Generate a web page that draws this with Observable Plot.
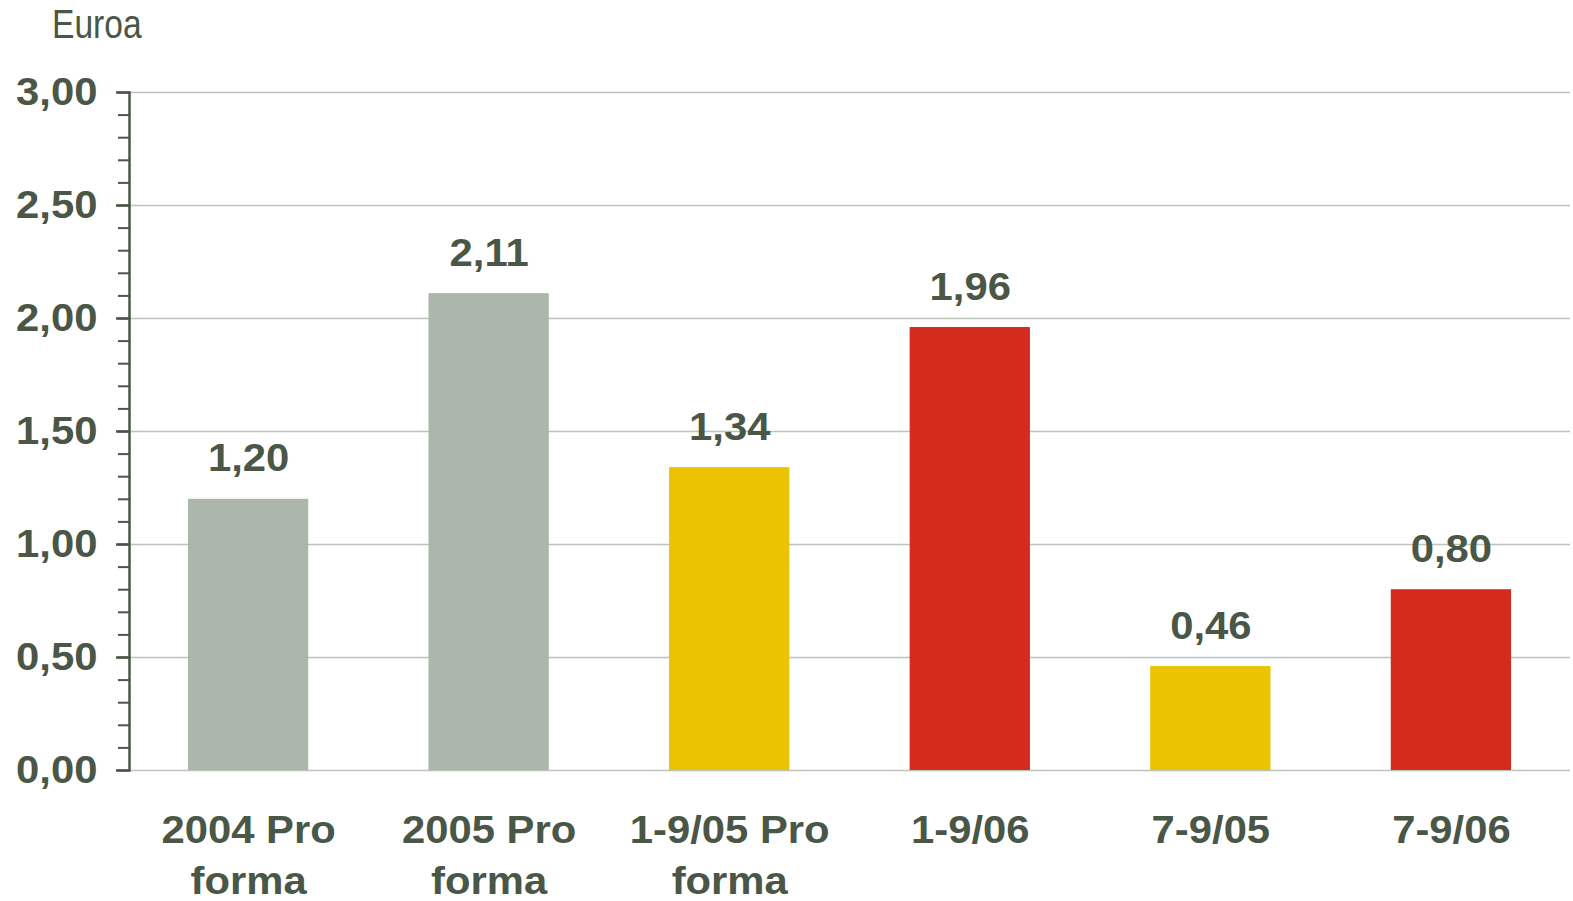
<!DOCTYPE html>
<html>
<head>
<meta charset="utf-8">
<script src="https://cdn.jsdelivr.net/npm/d3@7"></script>
<script src="https://cdn.jsdelivr.net/npm/@observablehq/plot@0.6"></script>
<style>
  html, body { margin: 0; padding: 0; background: #fff; }
  #wrap { position: relative; width: 1573px; height: 901px; }
  #unit { position: absolute; left: 52px; top: 4px; font-family: "Liberation Sans", Arial, sans-serif; font-size: 40px; line-height: 1; color: #4a5646; transform: scaleX(0.84); transform-origin: left top; }
  svg { display: block; }
</style>
</head>
<body>
<div id="wrap"><div id="unit">Euroa</div></div>
<script>
const categories = ["2004 Pro\nforma", "2005 Pro\nforma", "1-9/05 Pro\nforma", "1-9/06", "7-9/05", "7-9/06"];
const values = [1.20, 2.11, 1.34, 1.96, 0.46, 0.80];
const groups = ["A", "A", "B", "C", "B", "C"];
const groupColors = ["#abb7aa", "#ebc300", "#d52b1f"];
const majorTicks = [0, 0.5, 1, 1.5, 2, 2.5, 3];
const minorTicks = d3.range(0, 31).map(i => i / 10);

const data = categories.map((c, i) => ({category: c, value: values[i], group: groups[i]}));
const fmt = v => v.toFixed(2).replace(".", ",");
const textColor = "#4a5646";

const chart = Plot.plot({
  width: 1573,
  height: 901,
  marginLeft: 129,
  marginRight: 3,
  marginTop: 92,
  marginBottom: 131,
  style: {fontFamily: "'Liberation Sans', Arial, sans-serif", background: "#fff"},
  x: {domain: categories, paddingInner: 0.5, paddingOuter: 0.245, round: false, axis: null},
  y: {domain: [0, 3], axis: null},
  color: {domain: ["A", "B", "C"], range: groupColors},
  marks: [
    Plot.ruleY(majorTicks, {stroke: "#bcc4ba", strokeWidth: 1.5}),
    Plot.barY(data, {x: "category", y: "value", fill: "group"}),
    Plot.text(data, {x: "category", y: "value", text: d => fmt(d.value), dy: -40, lineAnchor: "middle", fontSize: 38, fontWeight: "bold", fill: textColor}),
    Plot.axisY(minorTicks, {tickSize: 11, stroke: textColor, strokeWidth: 2, text: null, label: null}),
    Plot.axisY(majorTicks, {tickSize: 13, tickPadding: 19, stroke: textColor, strokeWidth: 2.5, tickFormat: fmt, fontSize: 38, fontWeight: "bold", fill: textColor, label: null}),
    Plot.frame({anchor: "left", stroke: textColor, strokeWidth: 2.5}),
    Plot.axisX({tickSize: 0, tickPadding: 37, fontSize: 38, fontWeight: "bold", fill: textColor, lineHeight: 1.33, label: null})
  ]
});
document.getElementById("wrap").appendChild(chart);

// Stretch bold labels horizontally to match the reference's wide lettering
chart.querySelectorAll("text").forEach(t => {
  const parts = t.querySelectorAll("tspan");
  const targets = parts.length ? Array.from(parts) : [t];
  targets.forEach(el => {
    const len = el.getComputedTextLength();
    if (len > 0) {
      el.setAttribute("textLength", (len * 1.1).toFixed(1));
      el.setAttribute("lengthAdjust", "spacingAndGlyphs");
    }
  });
});
</script>
</body>
</html>
